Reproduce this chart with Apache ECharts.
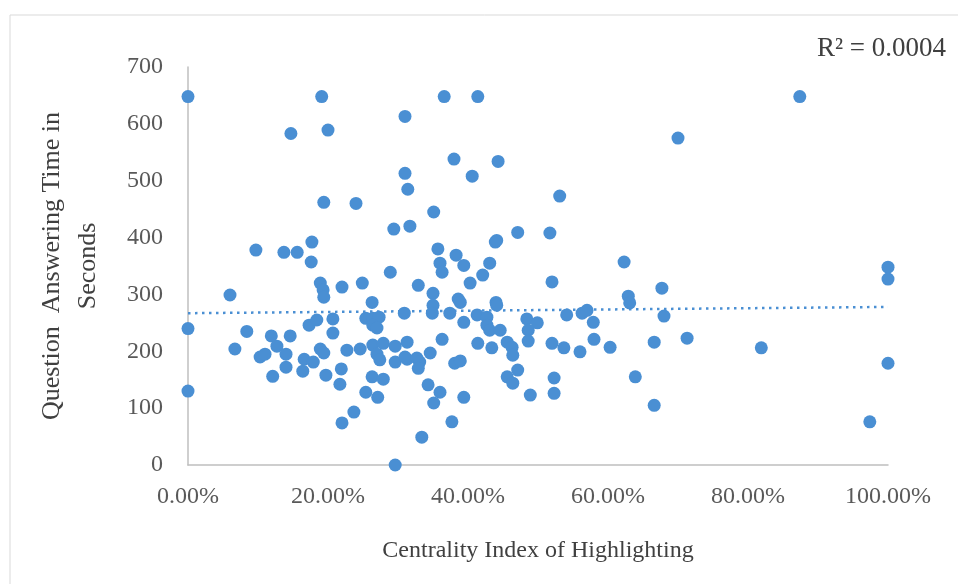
<!DOCTYPE html>
<html>
<head>
<meta charset="utf-8">
<script src="https://cdn.jsdelivr.net/npm/echarts@6/dist/echarts.min.js"></script>
<style>html,body{margin:0;padding:0;background:#fff;}#chart{width:958px;height:584px;}</style>
</head>
<body>
<div id="chart"></div>
<script>
// Centrality index (fraction) and answering time (seconds)
var centrality = [
  0.000,0.000,0.000,
  0.191,0.147,0.200,0.310,0.310,0.314,0.194,0.240,0.294,0.317,0.097,0.137,0.156,0.177,0.176,0.289,
  0.060,0.189,0.193,0.194,0.220,0.249,0.263,0.084,0.067,0.119,0.146,0.127,0.103,0.110,0.140,0.121,0.140,
  0.164,0.166,0.179,0.173,0.184,0.207,0.207,0.189,0.194,0.197,0.219,0.217,0.227,0.246,
  0.254,0.264,0.273,0.264,0.270,0.309,0.264,0.279,0.270,0.274,0.296,0.296,0.313,0.313,
  0.263,0.279,0.254,0.271,0.237,0.220,0.296,
  0.366,0.414,0.380,0.443,0.406,0.531,0.351,0.471,0.517,0.439,0.441,0.357,0.383,0.360,0.394,0.431,0.623,
  0.363,0.421,0.403,0.329,0.350,0.350,0.349,0.386,0.389,0.374,0.440,0.441,0.520,0.629,0.631,
  0.413,0.427,0.427,0.431,0.446,0.394,0.484,0.499,0.486,0.486,
  0.541,0.563,0.570,0.579,0.580,0.603,0.520,0.537,0.560,0.363,0.414,0.434,0.456,0.463,0.464,
  0.310,0.327,0.331,0.346,0.329,0.381,0.389,0.456,0.464,0.471,0.343,0.360,0.351,0.394,0.489,
  0.523,0.523,0.639,0.666,0.377,0.334,
  0.874,0.700,1.000,1.000,0.677,0.680,0.666,0.713,0.819,1.000,0.974
];
var answerTime = [
  648,240,130,
  648,583,589,613,513,485,462,460,415,420,378,374,374,392,357,339,
  299,320,308,295,313,320,286,235,204,227,227,209,190,195,195,156,172,
  165,186,181,246,255,257,232,204,197,158,169,142,202,204,
  258,258,260,246,241,267,211,214,195,185,209,181,186,216,
  155,151,128,119,93,74,0,
  648,648,538,534,508,473,445,409,408,392,395,380,369,355,351,355,357,
  339,334,320,316,302,281,267,292,286,267,286,281,322,297,285,
  264,260,246,237,237,251,257,250,237,218,
  264,267,272,251,221,207,214,206,199,221,214,206,216,207,193,
  190,188,181,197,170,179,183,155,144,167,141,128,109,119,123,
  153,126,155,105,76,49,
  648,575,348,327,311,262,216,223,206,179,76
];
// Linear trendline endpoints
var trendX = [0, 1];
var trendY = [267, 278];
var xTicks = [0, 0.2, 0.4, 0.6, 0.8, 1];
var rSquaredText = 'R\u00b2 = 0.0004';

var points = centrality.map(function (c, i) { return [c, answerTime[i]]; });
var trend = trendX.map(function (x, i) { return [x, trendY[i]]; });

var blue = '#4a8fd3';
var font = '"Liberation Serif", "DejaVu Serif", serif';
var chart = echarts.init(document.getElementById('chart'));
chart.setOption({
  animation: false,
  backgroundColor: '#ffffff',
  graphic: [
    { type: 'rect', shape: { x: 10, y: 15, width: 1000, height: 600 },
      style: { fill: 'none', stroke: '#d9d9d9', lineWidth: 1 }, z: -1 },
    { type: 'text', left: 817, top: 35,
      style: { text: rSquaredText, font: '27px ' + font, fill: '#404040' } }
  ],
  grid: { left: 188, right: 70, top: 67, bottom: 119 },
  xAxis: {
    type: 'value', min: 0, max: 1, interval: 0.2,
    name: 'Centrality Index of Highlighting', nameLocation: 'middle', nameGap: 74,
    nameTextStyle: { fontFamily: font, fontSize: 24, color: '#404040' },
    axisLine: { show: true, lineStyle: { color: '#bfbfbf', width: 1.5 } },
    axisTick: { show: false }, splitLine: { show: false },
    axisLabel: { margin: 20, fontFamily: font, fontSize: 24, color: '#595959',
      formatter: function (v) { return (v * 100).toFixed(2) + '%'; } }
  },
  yAxis: {
    type: 'value', min: 0, max: 700, interval: 100,
    name: 'Question  Answering Time in\nSeconds', nameLocation: 'middle', nameGap: 82, nameRotate: 90,
    nameTextStyle: { fontFamily: font, fontSize: 26, color: '#404040', lineHeight: 36 },
    axisLine: { show: true, lineStyle: { color: '#bfbfbf', width: 1.5 } },
    axisTick: { show: false }, splitLine: { show: false },
    axisLabel: { margin: 25, fontFamily: font, fontSize: 24, color: '#595959' }
  },
  series: [
    { type: 'scatter', data: points, symbolSize: 13, itemStyle: { color: blue, opacity: 1 }, z: 3 },
    { type: 'line', data: trend, symbol: 'none', z: 2,
      lineStyle: { color: blue, width: 2.5, type: [2.5, 4.5] } }
  ]
});
</script>
</body>
</html>
